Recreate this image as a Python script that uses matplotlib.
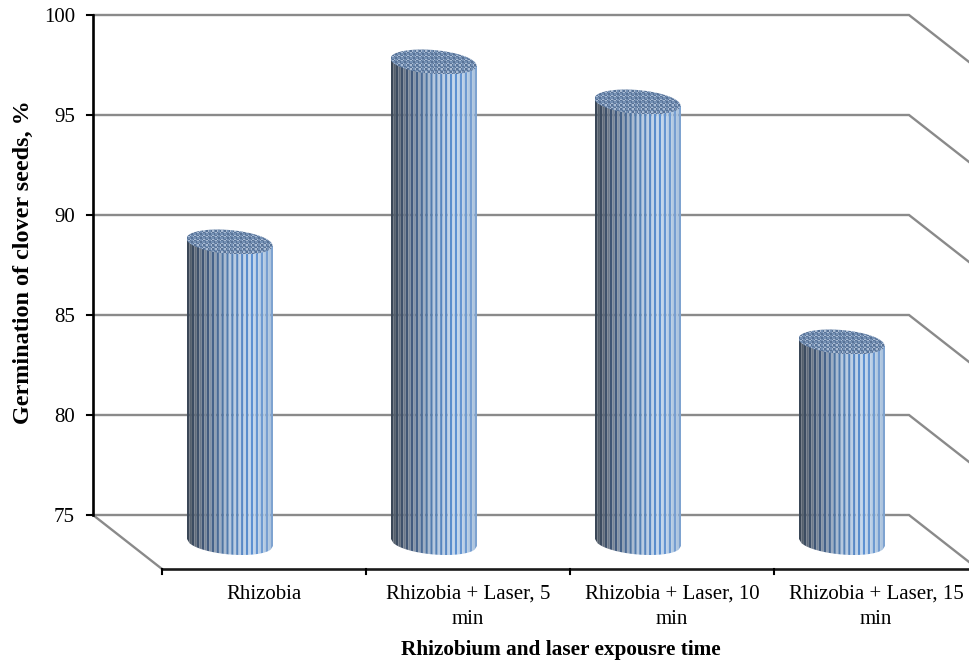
import numpy as np
import matplotlib.pyplot as plt
from matplotlib.patches import Polygon

categories = ["Rhizobia", "Rhizobia + Laser, 5\nmin", "Rhizobia + Laser, 10\nmin", "Rhizobia + Laser, 15\nmin"]
germination = [90, 99, 97, 85]
y_ticks = [75, 80, 85, 90, 95, 100]

plt.rcParams['font.family'] = ['Liberation Serif', 'DejaVu Serif']

W, H = 969, 663
fig = plt.figure(figsize=(W / 100, H / 100), dpi=100)
ax = fig.add_axes([0, 0, 1, 1])

# one category = 204 px, one percent = 20 px
ax.set_xlim(-264 / 204, (W - 264) / 204)
ax.set_ylim(75 - 148 / 20, 75 + 515 / 20)
ax.axis('off')

# floor depth of the 3D box
dx = 69 / 204
dy = 54 / 20
wall_left = -0.5 - dx
wall_right = len(categories) - 0.5 - dx

# side strip colours go from dark slate on the left to blue on the right
stops = [0, 0.25, 0.5, 0.75, 1]
dark = np.array([[58, 70, 85], [66, 92, 128], [84, 128, 180], [92, 144, 210], [128, 164, 208]]) / 255
light = np.array([[76, 86, 98], [128, 142, 160], [182, 200, 222], [198, 216, 236], [170, 194, 220]]) / 255


def strip_colour(frac, table):
    return [np.interp(frac, stops, table[:, c]) for c in range(3)]


def cap_outline(cx, cy, rx, ry, skew):
    t = np.linspace(0, 2 * np.pi, 200)
    return cx + rx * np.cos(t), cy - skew * np.cos(t) + ry * np.sin(t)


def draw_cylinder(i, value):
    cx = i - dx / 2
    base = 75 - dy / 2
    top = value - dy / 2
    rx = 43 / 204
    ry = 12 / 20
    skew = 3.5 / 20
    zorder = 5 + i

    # side of the cylinder, built from narrow vertical strips
    edges = np.linspace(cx - rx, cx + rx, 36)
    for k in range(len(edges) - 1):
        xs = np.array([edges[k], edges[k + 1]])
        u = (xs - cx) / rx
        low = base - skew * u - ry * np.sqrt(np.clip(1 - u**2, 0, 1))
        high = top - skew * u
        frac = (k + 0.5) / (len(edges) - 1)
        col = strip_colour(frac, dark if k % 2 == 0 else light)
        ax.fill_between(xs, low, high, color=col, lw=0, zorder=zorder)

    # top cap with a fine woven pattern
    ex, ey = cap_outline(cx, top, rx, ry, skew)
    nx, ny = 58, 18
    jj, ii = np.mgrid[0:ny, 0:nx]
    weave = np.zeros((ny, nx, 3))
    weave[:] = np.array([116, 144, 180]) / 255
    weave[(ii + jj) % 3 == 0] = np.array([170, 188, 212]) / 255
    weave[(ii - jj) % 3 == 0] = np.array([88, 114, 150]) / 255
    im = ax.imshow(weave, extent=[ex.min(), ex.max(), ey.min(), ey.max()], aspect='auto',
                   interpolation='nearest', zorder=zorder + 0.5)
    clip = Polygon(np.column_stack([ex, ey]), closed=True, transform=ax.transData)
    im.set_clip_path(clip)


grid_col = '#8a8a8a'
# back wall gridlines with the diagonals running off toward the viewer
for v in y_ticks:
    ax.plot([wall_left, wall_right, wall_right + dx], [v, v, v - dy], color=grid_col, lw=1.7,
            solid_capstyle='butt', solid_joinstyle='miter', zorder=2)
ax.plot([wall_left, wall_left + dx], [75, 75 - dy], color=grid_col, lw=1.7, zorder=2)

# value axis on the left
ax.plot([wall_left, wall_left], [75, 100], color='black', lw=1.9, zorder=3, solid_capstyle='projecting')
for v in y_ticks:
    ax.plot([wall_left - 6 / 204, wall_left], [v, v], color='black', lw=1.5, zorder=3)
    ax.text(wall_left - 18 / 204, v, str(v), ha='right', va='center_baseline', fontsize=15, color='black')

# category axis along the front of the floor
ax.plot([-0.5, len(categories) - 0.5], [75 - dy, 75 - dy], color='#1a1a1a', lw=1.9, zorder=3)
for p in np.arange(len(categories) + 1) - 0.5:
    ax.plot([p, p], [75 - dy, 75 - dy - 5 / 20], color='black', lw=1.5, zorder=3)

for i, name in enumerate(categories):
    ax.text(i, 75 - 70 / 20, name, ha='center', va='top', fontsize=15, linespacing=1.42, color='black')

for i, value in enumerate(germination):
    draw_cylinder(i, value)

ax.set_xlim(-264 / 204, (W - 264) / 204)
ax.set_ylim(75 - 148 / 20, 75 + 515 / 20)

ax.text(297 / 204, 75 - 135 / 20, "Rhizobium and laser expousre time", ha='center', va='center',
        fontsize=15.3, fontweight='bold')
ax.text(-241 / 204, 75 + 253 / 20, "Germination of clover seeds, %", rotation=90, ha='center', va='center',
        fontsize=17.4, fontweight='bold')

plt.savefig('out.png', dpi=100)
